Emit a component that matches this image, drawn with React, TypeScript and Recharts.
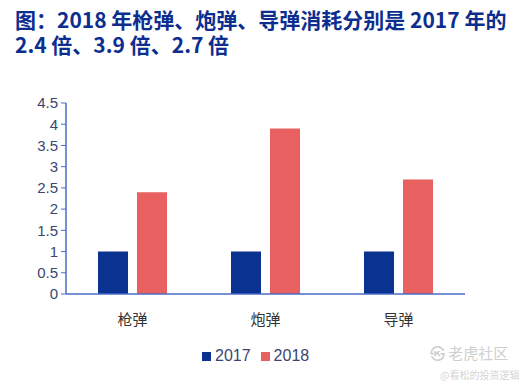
import { Bar, BarChart, Legend, XAxis, YAxis } from "recharts";

const categories = ["枪弹", "炮弹", "导弹"];
const y2017 = [1, 1, 1];
const y2018 = [2.4, 3.9, 2.7];
const yTicks = [0, 0.5, 1, 1.5, 2, 2.5, 3, 3.5, 4, 4.5];
const boundaryTicks = [0, 1, 2, 3];
const titleLines = ["图：2018 年枪弹、炮弹、导弹消耗分别是 2017 年的", "2.4 倍、3.9 倍、2.7 倍"];

const rows = categories.map((name, i) => ({ name, idx: i + 0.5, "2017": y2017[i], "2018": y2018[i] }));

const axisBlue = "#4a6cc4";
const tickColor = "#3a4670";

export default function App() {
  return (
    <div style={{ position: "absolute", left: 0, top: 0, width: 527, height: 384, background: "#fff", fontFamily: "'Liberation Sans', Arial, sans-serif" }}>
      {titleLines.map((t, i) => (
        <div
          key={i}
          style={{
            position: "absolute",
            left: 15,
            top: 9 + i * 25,
            width: 512,
            whiteSpace: "nowrap",
            fontFamily: "'Noto Sans CJK SC', sans-serif",
            fontWeight: 700,
            fontSize: 21,
            lineHeight: "21px",
            color: "#0d2e8f",
          }}
        >
          {t}
        </div>
      ))}
      <BarChart
        width={527}
        height={384}
        data={rows}
        margin={{ top: 103, right: 62, left: 16, bottom: 42 }}
        barSize={30}
        barGap={9}
      >
        <XAxis
          xAxisId="edge"
          type="number"
          dataKey="idx"
          domain={[0, 3]}
          ticks={boundaryTicks}
          tick={false}
          tickLine={{ stroke: axisBlue }}
          tickSize={5}
          axisLine={false}
          height={0}
        />
        <XAxis
          dataKey="name"
          axisLine={{ stroke: axisBlue, strokeWidth: 1.5 }}
          tickLine={false}
          tick={{ fill: "#333", fontSize: 15, fontFamily: "'Noto Sans CJK SC', sans-serif" }}
          tickMargin={14}
          height={30}
        />
        <YAxis
          domain={[0, 4.5]}
          ticks={yTicks}
          interval={0}
          axisLine={{ stroke: axisBlue, strokeWidth: 1.5 }}
          tickLine={{ stroke: axisBlue }}
          tickSize={5}
          tickMargin={3}
          tick={{ fill: tickColor, fontSize: 15 }}
          width={50}
        />
        <Legend
          verticalAlign="bottom"
          align="left"
          iconType="square"
          iconSize={9}
          wrapperStyle={{ top: 347, left: 202, width: "auto", fontSize: 16, color: tickColor }}
          formatter={(v) => <span style={{ color: tickColor }}>{v}</span>}
        />
        <Bar dataKey="2017" fill="#0a3291" isAnimationActive={false} />
        <Bar dataKey="2018" fill="#e8605f" isAnimationActive={false} />
      </BarChart>
      <div style={{ position: "absolute", left: 430, top: 342, color: "#cfcfcf", fontSize: 15, fontFamily: "'Noto Sans CJK SC', sans-serif" }}>
        ㉿ 老虎社区
      </div>
      <div style={{ position: "absolute", left: 440, top: 367, color: "#d4d4d4", fontSize: 10, fontFamily: "'Noto Sans CJK SC', sans-serif" }}>
        @看松的投资逻辑
      </div>
    </div>
  );
}
